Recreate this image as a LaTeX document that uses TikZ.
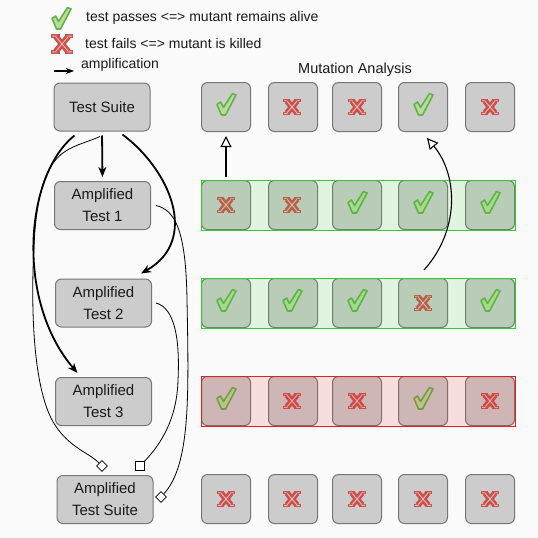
\documentclass[tikz,border=0pt]{standalone}
\usepackage{fontspec}
\setmainfont{Liberation Sans}
\usetikzlibrary{arrows.meta,fit,shapes.geometric}
\definecolor{bg}{HTML}{FAFAFA}
\definecolor{boxfill}{HTML}{CCCCCC}
\definecolor{boxline}{HTML}{777777}
\definecolor{chkdark}{HTML}{68B04A}
\definecolor{chklight}{HTML}{B5DE9C}
\definecolor{xdark}{HTML}{C9524F}
\definecolor{xlight}{HTML}{F2B8B4}
\definecolor{okgreen}{HTML}{33CC33}
\definecolor{kored}{HTML}{DD2222}
\definecolor{txt}{HTML}{1A1A1A}
\tikzset{
  chk/.pic={
    \filldraw[draw=chkdark, fill=chklight, line width=1.6pt, line join=round]
      (-9,-2.5) -- (-5.5,-5) -- (-2.5,0.5) -- (6.5,-13.5) -- (10,-12) -- (-0.5,8) -- (-4.5,8) -- cycle;
  },
  xx/.pic={
    \draw[xdark, line width=6pt, line cap=butt]
      (-5,-6) -- (5,6) (5,-6) -- (-5,6);
    \draw[xdark, line width=3.4pt, line cap=butt]
      (-9,-6.3) -- (-2,-6.3) (2,-6.3) -- (9,-6.3)
      (-9,6.3) -- (-2,6.3) (2,6.3) -- (9,6.3);
    \draw[xlight, line width=0.9pt]
      (-4.6,-5.4) -- (4.6,5.4) (4.6,-5.4) -- (-4.6,5.4)
      (-7.8,-6.3) -- (-4.3,-6.3) (4.3,-6.3) -- (7.8,-6.3)
      (-7.8,6.3) -- (-4.3,6.3) (4.3,6.3) -- (7.8,6.3);
  },
  tbox/.style={draw=boxline, fill=boxfill, rounded corners=6pt, minimum width=96pt,
    minimum height=48pt, line width=1pt, align=center, inner sep=0pt, text=txt,
    font=\fontsize{15}{22}\selectfont},
  mbox/.style={draw=boxline, fill=boxfill, rounded corners=6pt, minimum width=49pt,
    minimum height=49pt, line width=1pt, inner sep=0pt},
  lbl/.style={text=txt, font=\fontsize{14}{16}\selectfont, inner sep=0pt},
  amp/.style={-{Stealth[length=10pt,width=8pt,inset=3pt]}, line width=1.8pt},
  link/.style={line width=0.8pt},
  opentri/.style={-{Triangle[open,fill=white,length=11pt,width=11pt]}, line width=1.1pt},
  marker/.style={draw=black, fill=white, line width=0.8pt, inner sep=0pt},
  dmark/.style={marker, diamond, minimum width=11pt, minimum height=11pt},
  smark/.style={marker, rectangle, minimum width=9pt, minimum height=9pt},
  overlay/.style={inner sep=0pt, line width=1pt, fill opacity=0.13},
}
\begin{document}
\begin{tikzpicture}[x=1pt,y=-1pt]
\fill[bg] (0,0) rectangle (538,538);
\useasboundingbox (0,0) rectangle (538,538);

% legend
\pic at (61,21) {chk};
\node[lbl, anchor=west] (l1) at (86,18) {test passes <=> mutant remains alive};
\pic[scale=1.25] at (62,44) {xx};
\node[lbl, anchor=west] (l2) at (85,43) {test fails <=> mutant is killed};
\coordinate (la) at (54,71);
\coordinate (lb) at (74,71);
\draw[-{Stealth[length=8pt,width=6pt,inset=2.5pt]}, line width=1.2pt] (la) -- (lb);
\node[lbl, anchor=west] (l3) at (81,65) {amplification};
\node[lbl, font=\fontsize{14.5}{16}\selectfont] (ma) at (355,70) {Mutation Analysis};

% left boxes
\node[tbox] (ts)  at (102,107) {Test Suite};
\node[tbox] (at1) at (102.5,205.5) {Amplified\\Test 1};
\node[tbox] (at2) at (103.5,303) {Amplified\\Test 2};
\node[tbox] (at3) at (103.5,401.5) {Amplified\\Test 3};
\node[tbox] (ats) at (105,499.5) {Amplified\\Test Suite};

% mutant boxes
\foreach \r/\y in {0/107,1/205,2/303,3/401,4/499}{
  \foreach \c/\x in {1/226,2/293,3/357,4/423,5/490}{
    \node[mbox] (m-\r-\c) at (\x,\y) {};
  }
}
% icons
\foreach \r/\y/\a/\b/\cc/\d/\e in {0/107/chk/xx/xx/chk/xx, 1/205/xx/xx/chk/chk/chk,
    2/303/chk/chk/chk/xx/chk, 3/401/chk/xx/xx/chk/xx, 4/499/xx/xx/xx/xx/xx}{
  \pic at (226,\y) {\a};
  \pic at (292,\y) {\b};
  \pic at (357,\y) {\cc};
  \pic at (423,\y) {\d};
  \pic at (490,\y) {\e};
}

% overlays
\node[overlay, fit=(m-1-1)(m-1-5), draw=okgreen, fill=okgreen] (g1) {};
\node[overlay, fit=(m-2-1)(m-2-5), draw=okgreen, fill=okgreen] (g2) {};
\node[overlay, fit=(m-3-1)(m-3-5), draw=kored, fill=kored] (r3) {};

% right arrows
\draw[opentri, shorten <=3pt, shorten >=4pt] (m-1-1.north) -- (m-0-1.south);
\draw[opentri] ([xshift=1pt,yshift=8pt]m-2-4.north) .. controls (460,230) and (458,175) .. ([xshift=4pt,yshift=-6pt]m-0-4.south);

% amplification arrows
\draw[amp, shorten <=4pt, shorten >=4pt] (ts.south) -- (at1.north);
\draw[amp] ([xshift=-28pt,yshift=-3pt]ts.south east) .. controls (170,170) and (200,240) .. ([xshift=-11pt,yshift=5pt]at2.north east);
\draw[amp] ([xshift=21pt,yshift=-4pt]ts.south west) .. controls (25,175) and (15,300) .. ([xshift=-26pt,yshift=4pt]at3.north);

% composition markers
\node[dmark] (d1) at (102,466) {};
\node[smark] (s1) at (140,466) {};
\node[dmark] (d2) at (161,497) {};

% thin composition links
\draw[link]
  ([xshift=-2pt,yshift=-5pt]ts.south) .. controls (70,150) and (42,145) .. (35,230)
  .. controls (30,300) and (32,390) .. (55,425)
  .. controls (70,448) and (88,452) .. (d1);
\draw[link]
  ([xshift=4pt]at2.east) .. controls (175,308) and (180,340) .. (178,380)
  .. controls (177,420) and (160,445) .. (s1);
\draw[link]
  ([xshift=5pt]at1.east) .. controls (175,210) and (186,230) .. (187,300)
  .. controls (189,400) and (190,465) .. (d2);
\end{tikzpicture}
\end{document}
